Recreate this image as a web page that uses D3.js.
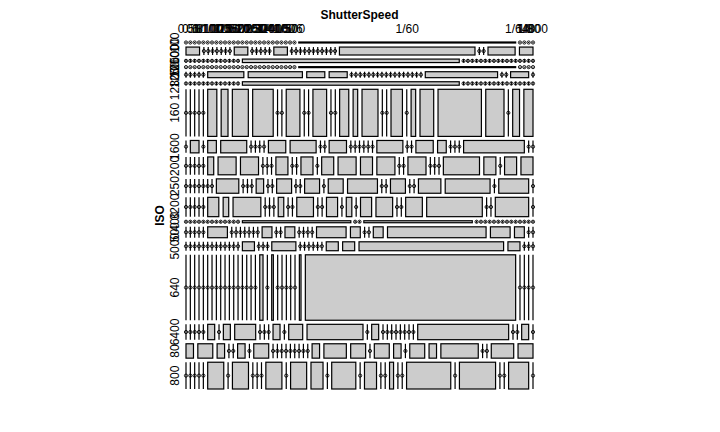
<!DOCTYPE html>
<html><head><meta charset="utf-8">
<script src="https://cdn.jsdelivr.net/npm/d3@7"></script>
<style>
html,body{margin:0;padding:0;background:#fff;}
text{font-family:"Liberation Sans",Arial,sans-serif;}
</style></head>
<body><svg id="chart" width="720" height="432"></svg>
<script>
// ShutterSpeed categories (columns, lexicographic order as in the source)
const shutterSpeeds = ["0.5","0.6","0.8","1","1/10","1/100","1/1000","1/125","1/13","1/15","1/160","1/1600","1/20","1/200","1/25","1/250","1/30","1/320","1/4","1/40","1/400","1/4000","1/5","1/50","1/500","1/6","1/60","1/640","1/8","1/80","1/800"];
// ISO levels (rows)
const isoLevels = ["100","1000","10000","125","1250","12800","160","1600","200","250","3200","400","500","5000","640","6400","80","800"];

// counts per ISO level, one entry per shutter speed
const iso100   = [0,0,0,0,0, 0,0,0,0,0, 0,0,0,0,0, 0,0,0,0,0, 0,0,0,0,0, 0,2,0,0,0, 0];
const iso1000  = [1,0,0,0,0, 0,0,0,1,0, 0,0,0,0,1, 0,0,0,0,0, 0,0,0,0,0, 0,10,0,0,2, 1];
const iso10000 = [0,0,0,0,0, 0,0,0,0,0, 0,0,0,7,0, 0,0,0,0,0, 0,0,0,0,0, 0,0,0,0,0, 0];
const iso125   = [0,0,0,0,0, 0,0,0,0,0, 0,0,0,0,0, 0,0,0,0,0, 0,0,0,0,0, 0,2,0,0,0, 0];
const iso1250  = [0,0,0,0,0, 2,3,1,1,0, 0,0,0,0,0, 0,0,0,0,0, 0,0,0,0,0, 0,4,0,0,1, 0];
const iso12800 = [0,0,0,0,0, 0,0,0,0,0, 0,0,0,7,0, 0,0,0,0,0, 0,0,0,0,0, 0,0,0,0,0, 0];
const iso160   = [0,0,0,0,0, 4,3,7,9,0, 0,6,0,0,6, 0,0,4,2,7, 0,0,5,0,2, 6,19,8,0,3, 4];
const iso1600  = [0,1,0,1,3, 0,0,0,0,2, 3,0,0,2,0, 0,0,0,0,0, 3,0,0,2,1, 0,0,0,7,0, 0];
const iso200   = [0,0,0,0,0, 1,3,3,0,0, 0,2,0,0,2, 0,2,3,2,3, 0,0,3,0,0, 0,6,2,0,2, 2];
const iso250   = [0,0,0,0,0, 0,0,3,0,0, 0,1,0,0,2, 0,0,2,0,2, 4,0,0,2,0, 0,3,6,0,4, 0];
const iso3200  = [0,0,0,0,0, 2,1,5,0,0, 0,1,0,0,3, 0,0,2,0,1, 0,2,3,0,0, 3,10,0,0,6, 0];
const iso400   = [0,0,0,0,0, 0,0,0,0,0, 0,0,0,2,0, 0,2,0,0,0, 0,0,0,0,0, 0,0,0,0,0, 0];
const iso500   = [0,0,0,0,0, 2,0,0,0,0, 0,0,0,1,0, 0,1,0,0,0, 0,3,1,0,0, 1,10,2,1,0, 0];
const iso5000  = [0,0,0,0,0, 0,0,0,0,0, 0,0,0,1,0, 0,0,2,0,0, 0,0,0,0,1, 1,12,1,0,0, 0];
const iso640   = [0,0,0,0,0, 0,0,0,0,0, 0,0,0,0,0, 0,0,2,0,1, 0,0,0,0,0, 1,128,0,0,0, 0];
const iso6400  = [0,0,0,0,0, 1,0,1,3,0, 0,0,1,0,2, 8,0,1,0,0, 0,0,0,0,0, 0,13,0,0,1, 0];
const iso80    = [1,2,1,0,0, 1,0,2,0,0, 0,0,0,0,0, 0,0,1,3,2, 0,2,1,0,2, 1,5,0,0,3, 2];
const iso800   = [0,0,0,0,0, 4,0,4,0,0, 0,4,0,4,3, 0,6,0,3,0, 0,1,0,0,11, 0,9,0,0,5, 0];

const rowCounts = [iso100,iso1000,iso10000,iso125,iso1250,iso12800,iso160,iso1600,iso200,iso250,iso3200,iso400,iso500,iso5000,iso640,iso6400,iso80,iso800];

const svg = d3.select("#chart");
// mosaic units 0..1 mapped to a square plotting area
const xScale = d3.scaleLinear().domain([0,1]).range([186,533]);
const yScale = d3.scaleLinear().domain([0,1]).range([42,389]);
const rowOff = 0.2, colOff = 0.375;

const rowTot = rowCounts.map(r => d3.sum(r));
const grand = d3.sum(rowTot);
const nR = isoLevels.length, nC = shutterSpeeds.length;
const rowWhite = rowOff / (nR - 1);
const colWhite = colOff / (nC - 1);

const rows = [];
let yPos = 0;
rowTot.forEach((t, i) => {
  const h = (1 - rowOff) * t / grand;
  const cells = [];
  let xPos = 0;
  rowCounts[i].forEach((c, j) => {
    const w = (1 - colOff) * c / t;
    cells.push({i, j, c, xl: xPos, xr: xPos + w});
    xPos += w + colWhite;
  });
  rows.push({i, yt: yPos, yb: yPos + h, cells});
  yPos += h + rowWhite;
});

const g = svg.append("g");
rows.forEach(r => {
  const y1 = yScale(r.yt), y2 = yScale(r.yb);
  r.cells.forEach(cell => {
    if (cell.c > 0) {
      g.append("rect")
        .attr("x", xScale(cell.xl)).attr("y", y1)
        .attr("width", xScale(cell.xr) - xScale(cell.xl))
        .attr("height", Math.max(0.01, y2 - y1))
        .attr("fill", "#CCCCCC").attr("stroke", "#000").attr("stroke-width", 1.2);
    } else {
      const x = xScale(cell.xl);
      g.append("line").attr("x1", x).attr("x2", x).attr("y1", y1).attr("y2", y2)
        .attr("stroke", "#000").attr("stroke-width", 1.2);
      g.append("circle").attr("cx", x).attr("cy", (y1 + y2) / 2).attr("r", 1.6)
        .attr("fill", "none").attr("stroke", "#000").attr("stroke-width", 0.9);
    }
  });
});

// column labels at the centres of the first row's cells
rows[0].cells.forEach(cell => {
  svg.append("text")
    .attr("x", xScale((cell.xl + cell.xr) / 2)).attr("y", 29).attr("dy", "0.35em")
    .attr("text-anchor", "middle").attr("font-size", 12).attr("fill", "#000")
    .text(shutterSpeeds[cell.j]);
});
// row labels
rows.forEach(r => {
  const cy = yScale((r.yt + r.yb) / 2);
  svg.append("text")
    .attr("transform", `translate(174.5,${cy}) rotate(-90)`).attr("dy", "0.35em")
    .attr("text-anchor", "middle").attr("font-size", 12).attr("fill", "#000")
    .text(isoLevels[r.i]);
});
svg.append("text").attr("x", 359.5).attr("y", 15).attr("dy", "0.35em")
  .attr("text-anchor", "middle").attr("font-size", 12).attr("font-weight", "bold")
  .text("ShutterSpeed");
svg.append("text").attr("transform", "translate(160,215.5) rotate(-90)").attr("dy", "0.35em")
  .attr("text-anchor", "middle").attr("font-size", 12).attr("font-weight", "bold")
  .text("ISO");
</script></body></html>
